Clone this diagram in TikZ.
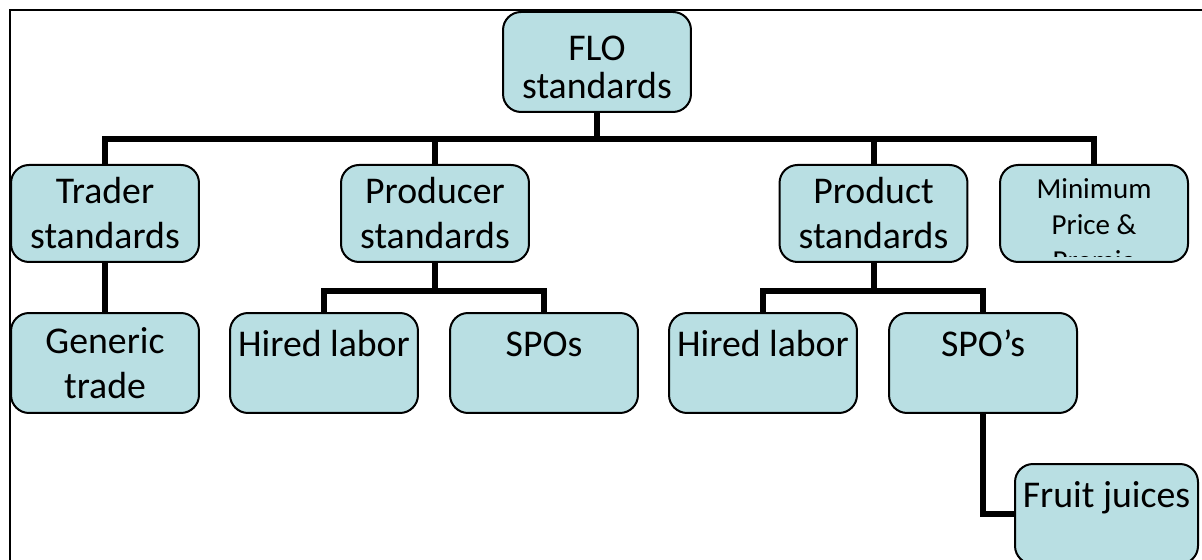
\documentclass[tikz,border=0pt]{standalone}
\usepackage{fontspec}
\setmainfont{Carlito}
\usetikzlibrary{positioning,backgrounds}
\definecolor{boxfill}{RGB}{185,223,227}

\begin{document}
\begin{tikzpicture}[x=0.02cm,y=0.02cm,
  box/.style={draw=black,line width=0.04cm,rounded corners=0.36cm,fill=boxfill,
    minimum width=3.76cm,minimum height=2cm,align=center,inner sep=0pt,
    font=\fontsize{21.5}{25.6}\selectfont},
  link/.style={line width=0.12cm}]
\clip (0,0) rectangle (1202,560);
% frame, runs off the page on the right and at the bottom
\draw[line width=0.04cm] (10,-20) |- (1240,550);
% top level
\node[box] (flo) at (597,498) {\mbox{}\\[-0.18cm]FLO\\[-0.14cm]standards};
\node[box,minimum height=1.94cm] (trader) at (105,346.5) {Trader\\standards};
\node[box,minimum height=1.94cm] (producer) at (435,346.5) {Producer\\standards};
\node[box,minimum height=1.94cm] (product) at (873.5,346.5) {Product\\standards};
\node[box,minimum height=1.94cm,
  path picture={
    \clip ([yshift=0.1cm]path picture bounding box.south west) rectangle (path picture bounding box.north east);
    \node[draw=none,fill=none,align=center,font=\fontsize{16.5}{20.5}\selectfont]
      at ([yshift=-0.22cm]path picture bounding box.center) {Minimum\\Price \&\\Premia};
  }] (minimum) at (1094,346.5) {};
% second level
\node[box] (generic) at (105,197) {Generic\\trade};
\node[box] (hiredA) at (324,197) {\strut Hired labor\\\mbox{}};
\node[box] (spoA) at (544,197) {\strut SPOs\\\mbox{}};
\node[box] (hiredB) at (763,197) {\strut Hired labor\\\mbox{}};
\node[box] (spoB) at (983,197) {\strut SPO’s\\\mbox{}};
% third level
\node[box,minimum width=3.66cm] (juices) at (1106.5,46) {\strut Fruit juices\\\mbox{}};
% connectors
\begin{scope}[on background layer]
\draw[link] (flo.south) -- ++(0,-26) coordinate (bar);
\foreach \n in {trader,producer,product,minimum}
  \draw[link] (bar) -| (\n.north);
\draw[link] (trader.south) -- (generic.north);
\draw[link] (producer.south) -- ++(0,-28) coordinate (pbar);
\draw[link] (pbar) -| (hiredA.north);
\draw[link] (pbar) -| (spoA.north);
\draw[link] (product.south) -- ++(0,-28) coordinate (qbar);
\draw[link] (qbar) -| (hiredB.north);
\draw[link] (qbar) -| (spoB.north);
\draw[link] (spoB.south) |- (juices.west);
\end{scope}
\end{tikzpicture}
\end{document}
